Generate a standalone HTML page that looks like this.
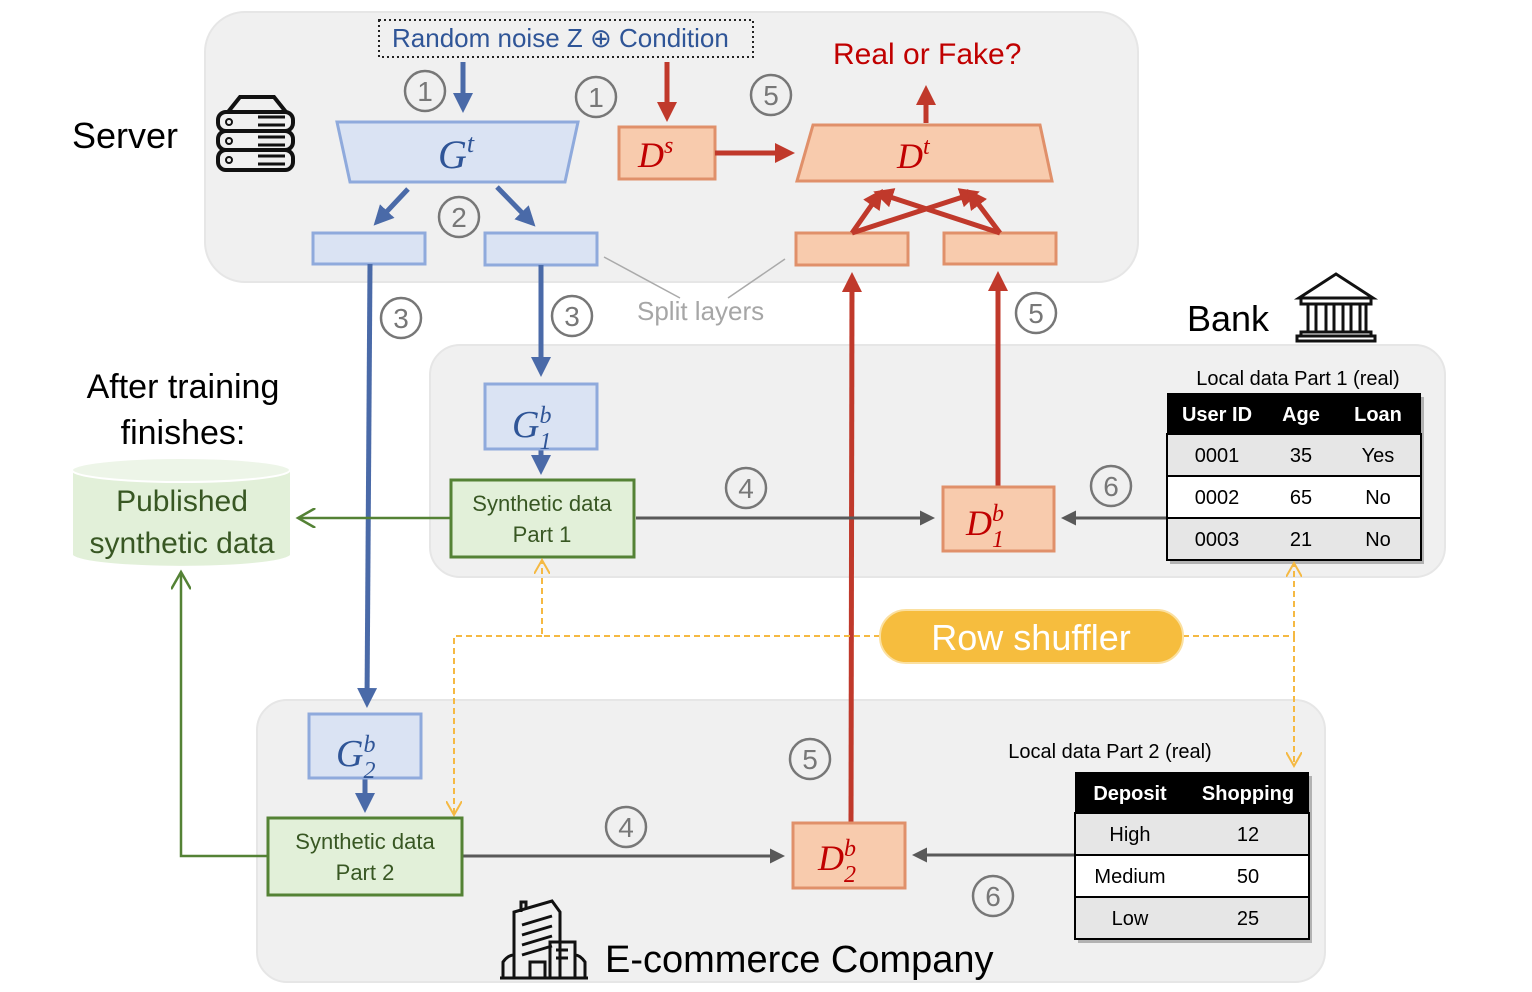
<!DOCTYPE html>
<html><head><meta charset="utf-8"><style>
html,body{margin:0;padding:0;background:#fff}
svg{display:block}
text{font-family:"Liberation Sans","DejaVu Sans",sans-serif}
.m{font-family:"Liberation Serif",serif;font-style:italic}
</style></head><body>
<svg width="1532" height="992" viewBox="0 0 1532 992" xmlns="http://www.w3.org/2000/svg">
<defs>
<marker id="ab" markerWidth="4" markerHeight="4" refX="3" refY="2" orient="auto" markerUnits="strokeWidth"><path d="M0,0 L4,2 L0,4 z" fill="#4a6aa8"/></marker>
<marker id="ar" markerWidth="4" markerHeight="4" refX="3" refY="2" orient="auto" markerUnits="strokeWidth"><path d="M0,0 L4,2 L0,4 z" fill="#c0392b"/></marker>
<marker id="ag" markerWidth="5" markerHeight="5" refX="4" refY="2.5" orient="auto" markerUnits="strokeWidth"><path d="M0,0 L5,2.5 L0,5 z" fill="#595959"/></marker>
<marker id="agr" markerWidth="8" markerHeight="8" refX="7" refY="4" orient="auto" markerUnits="strokeWidth"><path d="M0,0 L7,4 L0,8" fill="none" stroke="#548235" stroke-width="1"/></marker>
<marker id="ao" markerWidth="8" markerHeight="8" refX="7" refY="4" orient="auto" markerUnits="strokeWidth"><path d="M0,0 L7,4 L0,8" fill="none" stroke="#f5b942" stroke-width="1"/></marker>
</defs>
<!-- panels -->
<rect x="205" y="12" width="933" height="270" rx="40" fill="#f0f0f0" stroke="#e6e6e6" stroke-width="2"/>
<rect x="430" y="345" width="1015" height="232" rx="30" fill="#f0f0f0" stroke="#e6e6e6" stroke-width="2"/>
<rect x="257" y="700" width="1068" height="282" rx="30" fill="#f0f0f0" stroke="#e6e6e6" stroke-width="2"/>

<text x="72" y="148" font-size="36">Server</text>
<!-- server icon -->
<g fill="none" stroke="#111" stroke-width="4">
<path d="M228,112 L240,97 L274,97 L286,112"/>
<rect x="218" y="112" width="75" height="19" rx="8"/>
<rect x="218" y="131" width="75" height="19" rx="8"/>
<rect x="218" y="150" width="75" height="20" rx="8"/>
<path d="M258,117 H285 M258,125 H285 M258,137 H285 M258,145 H285 M258,156 H285 M258,164 H285" stroke-width="3"/>
</g>
<circle cx="229" cy="122" r="3" fill="none" stroke="#111" stroke-width="2"/><circle cx="229" cy="141" r="3" fill="none" stroke="#111" stroke-width="2"/><circle cx="229" cy="160" r="3" fill="none" stroke="#111" stroke-width="2"/>

<rect x="379" y="20" width="374" height="37" fill="none" stroke="#222" stroke-width="2" stroke-dasharray="2,3"/>
<text x="392" y="47" font-size="26" fill="#2f5597">Random noise Z ⊕  Condition</text>
<text x="833" y="64" font-size="30" fill="#c00000">Real or Fake?</text>

<!-- Gt -->
<polygon points="337,122 578,122 565,182 350,182" fill="#dae3f3" stroke="#8faadc" stroke-width="3"/>
<text x="438" y="168" font-size="40" class="m" fill="#2f5597">G<tspan font-size="26" dy="-16">t</tspan></text>
<rect x="313" y="233" width="112" height="31" fill="#dae3f3" stroke="#8faadc" stroke-width="3"/>
<rect x="485" y="233" width="112" height="32" fill="#dae3f3" stroke="#8faadc" stroke-width="3"/>

<!-- Ds / Dt -->
<rect x="619" y="127" width="96" height="52" fill="#f8cbad" stroke="#e0906a" stroke-width="3"/>
<text x="638" y="167" font-size="36" class="m" fill="#c00000">D<tspan font-size="24" dy="-14">s</tspan></text>
<polygon points="813,125 1040,125 1052,181 797,181" fill="#f8cbad" stroke="#e0906a" stroke-width="3"/>
<text x="897" y="168" font-size="36" class="m" fill="#c00000">D<tspan font-size="24" dy="-14">t</tspan></text>
<rect x="796" y="233" width="112" height="32" fill="#f8cbad" stroke="#e0906a" stroke-width="3"/>
<rect x="944" y="233" width="112" height="31" fill="#f8cbad" stroke="#e0906a" stroke-width="3"/>

<!-- split layers -->
<line x1="604" y1="257" x2="680" y2="298" stroke="#aaa" stroke-width="1.5"/>
<line x1="785" y1="259" x2="728" y2="298" stroke="#aaa" stroke-width="1.5"/>
<text x="637" y="320" font-size="26" fill="#a6a6a6">Split layers</text>

<!-- blue arrows -->
<g stroke="#4a6aa8" stroke-width="5" fill="none">
<line x1="463" y1="62" x2="463" y2="108" marker-end="url(#ab)"/>
<line x1="408" y1="189" x2="377" y2="222" marker-end="url(#ab)"/>
<line x1="497" y1="187" x2="532" y2="223" marker-end="url(#ab)"/>
<line x1="541" y1="265" x2="541" y2="372" marker-end="url(#ab)"/>
<line x1="370" y1="264" x2="367" y2="703" marker-end="url(#ab)"/>
<line x1="541" y1="449" x2="541" y2="470" marker-end="url(#ab)"/>
<line x1="365" y1="778" x2="365" y2="808" marker-end="url(#ab)"/>
</g>
<!-- red arrows -->
<g stroke="#c0392b" stroke-width="5" fill="none">
<line x1="667" y1="62" x2="667" y2="117" marker-end="url(#ar)"/>
<line x1="715" y1="153" x2="790" y2="153" marker-end="url(#ar)"/>
<line x1="926" y1="123" x2="926" y2="90" marker-end="url(#ar)"/>
<line x1="852" y1="233" x2="880" y2="193" marker-end="url(#ar)"/>
<line x1="852" y1="233" x2="975" y2="193" marker-end="url(#ar)"/>
<line x1="1000" y1="233" x2="970" y2="193" marker-end="url(#ar)"/>
<line x1="1000" y1="233" x2="878" y2="193" marker-end="url(#ar)"/>
<line x1="851" y1="822" x2="852" y2="277" marker-end="url(#ar)"/>
<line x1="998" y1="486" x2="998" y2="276" marker-end="url(#ar)"/>
</g>

<!-- circled numbers -->
<g fill="none" stroke="#777" stroke-width="2.5">
<circle cx="425" cy="91" r="20"/><circle cx="596" cy="97" r="20"/><circle cx="771" cy="95" r="20"/>
<circle cx="459" cy="217" r="20"/><circle cx="401" cy="318" r="20"/><circle cx="572" cy="316" r="20"/>
<circle cx="1036" cy="313" r="20"/><circle cx="746" cy="488" r="20"/><circle cx="1111" cy="486" r="20"/>
<circle cx="810" cy="759" r="20"/><circle cx="626" cy="827" r="20"/><circle cx="993" cy="896" r="20"/>
</g>
<g font-size="28" fill="#777" text-anchor="middle">
<text x="425" y="101">1</text><text x="596" y="107">1</text><text x="771" y="105">5</text>
<text x="459" y="227">2</text><text x="401" y="328">3</text><text x="572" y="326">3</text>
<text x="1036" y="323">5</text><text x="746" y="498">4</text><text x="1111" y="496">6</text>
<text x="810" y="769">5</text><text x="626" y="837">4</text><text x="993" y="906">6</text>
</g>

<!-- Bank -->
<text x="1187" y="331" font-size="36">Bank</text>
<g fill="none" stroke="#111" stroke-width="3">
<path d="M1299,298 L1336,274 L1373,298 Z"/>
<rect x="1301" y="298" width="70" height="6"/>
<path d="M1308,304 V332 M1316,304 V332 M1326,304 V332 M1334,304 V332 M1343,304 V332 M1351,304 V332 M1360,304 V332 M1366,304 V332"/>
<rect x="1301" y="332" width="70" height="4"/><rect x="1297" y="336" width="78" height="5"/>
</g>

<!-- G1b / syn1 -->
<rect x="485" y="384" width="112" height="65" fill="#dae3f3" stroke="#8faadc" stroke-width="3"/>
<text x="512" y="437" font-size="38" class="m" fill="#2f5597">G<tspan font-size="24" dy="-14">b</tspan><tspan font-size="24" dx="-12" dy="26">1</tspan></text>
<rect x="451" y="480" width="183" height="77" fill="#e2f0d9" stroke="#548235" stroke-width="3"/>
<text x="542" y="511" font-size="22" fill="#385723" text-anchor="middle">Synthetic data</text>
<text x="542" y="542" font-size="22" fill="#385723" text-anchor="middle">Part 1</text>

<rect x="943" y="487" width="111" height="64" fill="#f8cbad" stroke="#e0906a" stroke-width="3"/>
<text x="966" y="535" font-size="36" class="m" fill="#c00000">D<tspan font-size="24" dy="-14">b</tspan><tspan font-size="24" dx="-12" dy="26">1</tspan></text>

<!-- gray arrows -->
<g stroke="#595959" stroke-width="3" fill="none">
<line x1="636" y1="518" x2="932" y2="518" marker-end="url(#ag)"/>
<line x1="1166" y1="518" x2="1064" y2="518" marker-end="url(#ag)"/>
<line x1="463" y1="856" x2="782" y2="856" marker-end="url(#ag)"/>
<line x1="1075" y1="855" x2="915" y2="855" marker-end="url(#ag)"/>
</g>

<!-- Table 1 -->
<text x="1298" y="385" font-size="20" text-anchor="middle">Local data Part 1 (real)</text>
<rect x="1170" y="397" width="254" height="167" fill="#555" opacity="0.4"/>
<rect x="1167" y="393" width="254" height="41" fill="#000"/>
<rect x="1167" y="434" width="254" height="42" fill="#e6e6e6" stroke="#000" stroke-width="2"/>
<rect x="1167" y="476" width="254" height="42" fill="#fff" stroke="#000" stroke-width="2"/>
<rect x="1167" y="518" width="254" height="42" fill="#e6e6e6" stroke="#000" stroke-width="2"/>
<g font-size="20" text-anchor="middle">
<text x="1217" y="421" fill="#fff" font-weight="bold">User ID</text><text x="1301" y="421" fill="#fff" font-weight="bold">Age</text><text x="1378" y="421" fill="#fff" font-weight="bold">Loan</text>
<text x="1217" y="462">0001</text><text x="1301" y="462">35</text><text x="1378" y="462">Yes</text>
<text x="1217" y="504">0002</text><text x="1301" y="504">65</text><text x="1378" y="504">No</text>
<text x="1217" y="546">0003</text><text x="1301" y="546">21</text><text x="1378" y="546">No</text>
</g>

<!-- After training -->
<text x="183" y="398" font-size="34" text-anchor="middle">After training</text>
<text x="183" y="444" font-size="34" text-anchor="middle">finishes:</text>
<path d="M73,470 V555 A109,12 0 0 0 290,555 V470 Z" fill="#e2f0d9"/>
<ellipse cx="181" cy="470" rx="109" ry="12" fill="#edf5e8" stroke="#fff" stroke-width="2"/>
<text x="182" y="511" font-size="30" fill="#385723" text-anchor="middle">Published</text>
<text x="182" y="553" font-size="30" fill="#385723" text-anchor="middle">synthetic data</text>

<!-- green arrows -->
<g stroke="#548235" stroke-width="2.5" fill="none">
<line x1="450" y1="518" x2="298" y2="518" marker-end="url(#agr)"/>
<polyline points="268,856 181,856 181,572" marker-end="url(#agr)"/>
</g>

<!-- Row shuffler dashed -->
<g stroke="#f5b942" stroke-width="2" fill="none" stroke-dasharray="6,4">
<polyline points="880,636 542,636 542,560" marker-end="url(#ao)"/>
<polyline points="542,636 454,636 454,815" marker-end="url(#ao)"/>
<polyline points="1183,636 1294,636 1294,563" marker-end="url(#ao)"/>
<polyline points="1294,636 1294,766" marker-end="url(#ao)"/>
</g>
<rect x="880" y="610" width="303" height="53" rx="26" fill="#f6bd3e" stroke="#fbe0a0" stroke-width="2"/>
<text x="1031" y="650" font-size="36" fill="#fff" text-anchor="middle">Row shuffler</text>

<!-- G2b / syn2 / D2b -->
<rect x="309" y="714" width="112" height="64" fill="#dae3f3" stroke="#8faadc" stroke-width="3"/>
<text x="336" y="766" font-size="38" class="m" fill="#2f5597">G<tspan font-size="24" dy="-14">b</tspan><tspan font-size="24" dx="-12" dy="26">2</tspan></text>
<rect x="268" y="818" width="194" height="77" fill="#e2f0d9" stroke="#548235" stroke-width="3"/>
<text x="365" y="849" font-size="22" fill="#385723" text-anchor="middle">Synthetic data</text>
<text x="365" y="880" font-size="22" fill="#385723" text-anchor="middle">Part 2</text>
<rect x="793" y="823" width="112" height="65" fill="#f8cbad" stroke="#e0906a" stroke-width="3"/>
<text x="818" y="870" font-size="36" class="m" fill="#c00000">D<tspan font-size="24" dy="-14">b</tspan><tspan font-size="24" dx="-12" dy="26">2</tspan></text>

<!-- Table 2 -->
<text x="1110" y="758" font-size="20" text-anchor="middle">Local data Part 2 (real)</text>
<rect x="1078" y="776" width="234" height="167" fill="#555" opacity="0.4"/>
<rect x="1075" y="772" width="234" height="41" fill="#000"/>
<rect x="1075" y="813" width="234" height="42" fill="#e6e6e6" stroke="#000" stroke-width="2"/>
<rect x="1075" y="855" width="234" height="42" fill="#fff" stroke="#000" stroke-width="2"/>
<rect x="1075" y="897" width="234" height="42" fill="#e6e6e6" stroke="#000" stroke-width="2"/>
<g font-size="20" text-anchor="middle">
<text x="1130" y="800" fill="#fff" font-weight="bold">Deposit</text><text x="1248" y="800" fill="#fff" font-weight="bold">Shopping</text>
<text x="1130" y="841">High</text><text x="1248" y="841">12</text>
<text x="1130" y="883">Medium</text><text x="1248" y="883">50</text>
<text x="1130" y="925">Low</text><text x="1248" y="925">25</text>
</g>

<!-- E-commerce -->
<g fill="none" stroke="#111" stroke-width="3">
<path d="M514,978 V912 L552,901 L560,912 V978"/>
<path d="M521,912 V902 H526 V908"/>
<path d="M522,925 L552,916 M522,935 L552,926 M522,945 L552,936 M522,955 L552,946"/>
<rect x="550" y="942" width="25" height="36"/>
<path d="M556,950 H568 M556,958 H568"/>
<path d="M503,978 V962 Q508,955 514,955 M585,978 V962 Q580,955 575,955 M500,978 H588"/>
<path d="M530,978 V962 H545 V978"/>
</g>
<text x="605" y="972" font-size="38">E-commerce Company</text>
</svg>
</body></html>
